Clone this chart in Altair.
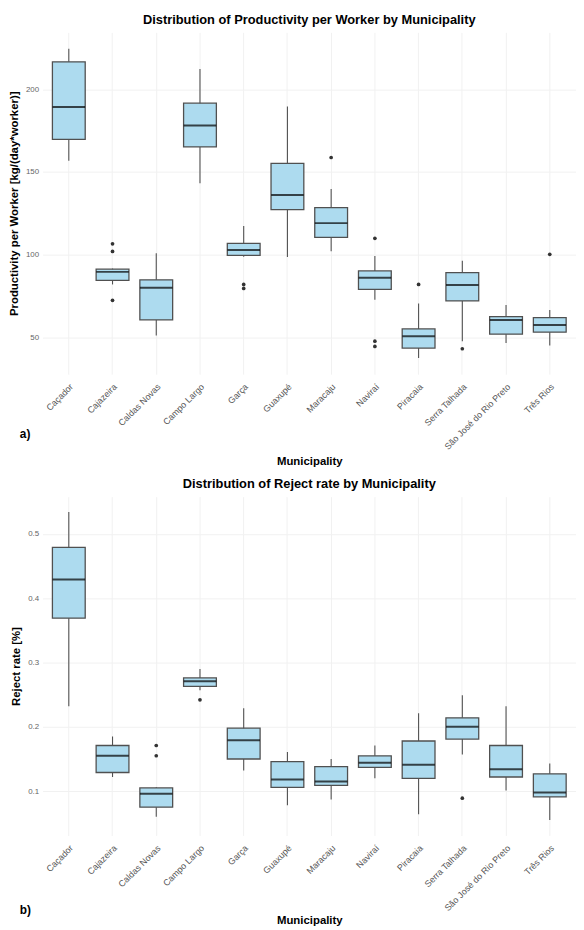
import altair as alt
import pandas as pd

municipalities = ["Caçador", "Cajazeira", "Caldas Novas", "Campo Largo", "Garça", "Guaxupé",
                  "Maracaju", "Naviraí", "Piracaia", "Serra Talhada", "São José do Rio Preto", "Três Rios"]

# Productivity per worker (kg/(day*worker))
prod_lo = [156.7, 81.9, 51.0, 143.1, 98.7, 98.5, 102.0, 72.7, 37.4, 47.6, 46.4, 44.9]
prod_q1 = [169.7, 84.3, 60.4, 165.1, 99.5, 127.2, 110.4, 78.9, 43.4, 71.9, 51.8, 53.0]
prod_med = [189.2, 89.5, 79.9, 178.0, 102.8, 136.0, 119.0, 85.9, 50.6, 81.5, 60.4, 57.4]
prod_q3 = [216.6, 91.1, 84.7, 191.6, 106.8, 155.1, 128.4, 90.1, 55.0, 89.1, 62.4, 61.8]
prod_hi = [224.5, 91.5, 100.8, 212.2, 117.2, 189.6, 139.6, 99.1, 70.3, 96.3, 69.5, 66.4]
prod_out_cat = ["Cajazeira", "Cajazeira", "Cajazeira", "Garça", "Garça", "Maracaju",
                "Naviraí", "Naviraí", "Naviraí", "Piracaia", "Serra Talhada", "Três Rios"]
prod_out_val = [106.5, 101.9, 72.3, 81.9, 79.5, 158.7, 109.8, 47.6, 44.4, 81.9, 43.0, 100.1]

# Reject rate (%)
rej_lo = [0.232, 0.122, 0.060, 0.257, 0.132, 0.078, 0.087, 0.120, 0.064, 0.157, 0.101, 0.055]
rej_q1 = [0.369, 0.129, 0.075, 0.263, 0.150, 0.106, 0.109, 0.137, 0.120, 0.181, 0.122, 0.091]
rej_med = [0.429, 0.155, 0.096, 0.271, 0.179, 0.118, 0.115, 0.144, 0.141, 0.200, 0.134, 0.098]
rej_q3 = [0.479, 0.171, 0.105, 0.276, 0.198, 0.146, 0.138, 0.155, 0.178, 0.214, 0.171, 0.127]
rej_hi = [0.534, 0.185, 0.106, 0.290, 0.229, 0.161, 0.150, 0.171, 0.221, 0.249, 0.232, 0.143]
rej_out_cat = ["Caldas Novas", "Caldas Novas", "Campo Largo", "Serra Talhada"]
rej_out_val = [0.171, 0.155, 0.242, 0.089]

FONT = "Liberation Sans"
FILL = "#ADDBEF"
EDGE = "#505050"
W = 540


def panel(lo, q1, med, q3, hi, out_cat, out_val, domain, ticks, fmt, ytitle, title, tag,
          h, tag_y, title_pad):
    df = pd.DataFrame({"m": municipalities, "lo": lo, "q1": q1, "med": med, "q3": q3, "hi": hi})
    dfo = pd.DataFrame({"m": out_cat, "v": out_val})
    xenc = alt.X("m:N", sort=municipalities, title="Municipality",
                 scale=alt.Scale(paddingInner=0, paddingOuter=0.1),
                 axis=alt.Axis(labelAngle=-45, labelAlign="right", labelBaseline="top",
                               labelFontSize=9, labelColor="#555555", labelPadding=8,
                               ticks=False, domain=False, grid=True, gridColor="#f1f1f1",
                               titleFontSize=11.5, titleFontWeight="bold",
                               titlePadding=title_pad, titleColor="#000"))
    yscale = alt.Scale(domain=domain, nice=False, zero=False)
    yaxis = alt.Axis(values=ticks, format=fmt, labelFontSize=8, labelColor="#666666",
                     ticks=False, domain=False, grid=True, gridColor="#f1f1f1",
                     labelPadding=4, titleFontSize=11.5, titleFontWeight="bold",
                     titlePadding=6, titleColor="#000")
    base = alt.Chart(df)
    whisk = base.mark_rule(color=EDGE, strokeWidth=1.1).encode(
        x=xenc, y=alt.Y("lo:Q", scale=yscale, axis=yaxis, title=ytitle), y2="hi:Q")
    box = base.mark_bar(width=alt.RelativeBandSize(0.75), fill=FILL, stroke=EDGE,
                        strokeWidth=1.3).encode(
        x=alt.X("m:N", sort=municipalities), y=alt.Y("q1:Q"), y2="q3:Q")
    medt = base.mark_tick(size=33, thickness=2, color="#000").encode(
        x=alt.X("m:N", sort=municipalities), y=alt.Y("med:Q"))
    outs = alt.Chart(dfo).mark_circle(size=14, color="#333", opacity=1).encode(
        x=alt.X("m:N", sort=municipalities), y=alt.Y("v:Q"))
    lab = alt.Chart(pd.DataFrame({"t": [tag]})).mark_text(
        font=FONT, fontSize=12, fontWeight="bold", align="left", baseline="middle",
        color="#000").encode(text="t:N", x=alt.value(-23), y=alt.value(tag_y))
    return alt.layer(whisk, box, medt, outs, lab).properties(
        width=W, height=h,
        title=alt.TitleParams(title, fontSize=13, fontWeight="bold", font=FONT,
                              anchor="middle", frame="group", offset=6, color="#000"))


top = panel(prod_lo, prod_q1, prod_med, prod_q3, prod_hi, prod_out_cat, prod_out_val,
            [27.6, 234.4], [50, 100, 150, 200], "d",
            "Productivity per Worker [kg/(day*worker)]",
            "Distribution of Productivity per Worker by Municipality", "a)", 346, 407, 4)
bot = panel(rej_lo, rej_q1, rej_med, rej_q3, rej_hi, rej_out_cat, rej_out_val,
            [0.031, 0.558], [0.1, 0.2, 0.3, 0.4, 0.5], ".1f",
            "Reject rate [%]",
            "Distribution of Reject rate by Municipality", "b)", 343, 418, 2)

chart = alt.vconcat(top, bot, spacing=11).properties(padding=0, background="white").configure(
    font=FONT).configure_view(stroke=None)

chart.save("out.html", embed_options={"renderer": "svg", "actions": False})
